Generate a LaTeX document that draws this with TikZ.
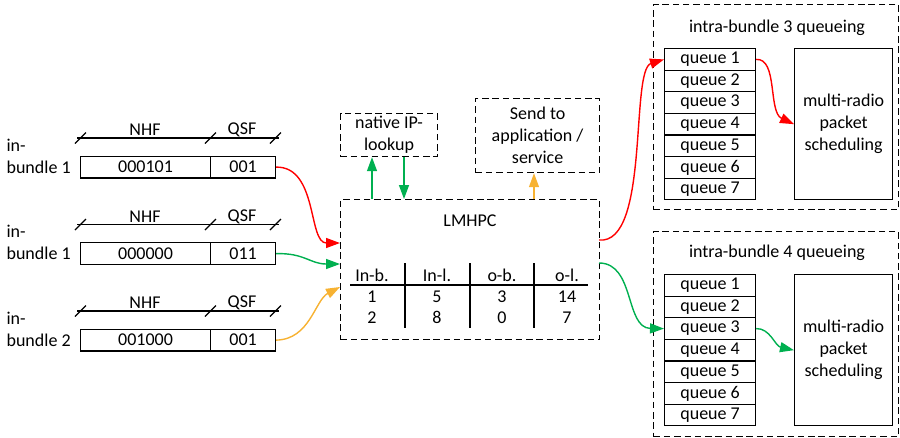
\documentclass[tikz,border=0pt]{standalone}
\usepackage{fontspec}
\setmainfont{Carlito}
\usetikzlibrary{arrows.meta}
\definecolor{myred}{RGB}{255,0,0}
\definecolor{mygreen}{RGB}{0,176,80}
\definecolor{myorange}{RGB}{247,178,50}
\begin{document}
\begin{tikzpicture}[x=1pt,y=-1pt,
  font=\fontsize{18}{22}\selectfont, line width=1.2pt,
  cell/.style={draw, minimum height=21.6pt, inner sep=0pt, anchor=north west},
  dbox/.style={draw, dash pattern=on 6.5pt off 3.8pt, inner sep=0pt, anchor=north west, align=center},
  lbl/.style={inner sep=0pt},
  arr/.style={-{Triangle[length=14pt,width=10pt]}, line width=1.4pt},
]
\useasboundingbox (0,0) rectangle (900,437);

% ---------- input rows ----------
% row 1
\node[lbl, anchor=west, align=left] (l1) at (6,156) {in-\\bundle 1};
\node[cell, minimum width=130pt] (n1) at (80,155.7) {000101};
\node[cell, minimum width=65pt] (s1) at (210,155.7) {001};
\draw (77,138) -- (279,138);
\draw (75,143.5) -- (86,132.5) (205,143.5) -- (216,132.5) (270,143.5) -- (281,132.5);
\node[lbl] (h1a) at (145,130) {NHF};
\node[lbl] (h1b) at (242,130) {QSF};
% row 2
\node[lbl, anchor=west, align=left] (l2) at (6,242.5) {in-\\bundle 1};
\node[cell, minimum width=130pt] (n2) at (80,242.2) {000000};
\node[cell, minimum width=65pt] (s2) at (210,242.2) {011};
\draw (77,224.5) -- (279,224.5);
\draw (75,230) -- (86,219) (205,230) -- (216,219) (270,230) -- (281,219);
\node[lbl] (h2a) at (145,216.5) {NHF};
\node[lbl] (h2b) at (242,216.5) {QSF};
% row 3
\node[lbl, anchor=west, align=left] (l3) at (6,329) {in-\\bundle 2};
\node[cell, minimum width=130pt] (n3) at (80,328.7) {001000};
\node[cell, minimum width=65pt] (s3) at (210,328.7) {001};
\draw (77,311) -- (279,311);
\draw (75,316.5) -- (86,305.5) (205,316.5) -- (216,305.5) (270,316.5) -- (281,305.5);
\node[lbl] (h3a) at (145,303) {NHF};
\node[lbl] (h3b) at (242,303) {QSF};

% ---------- LMHPC ----------
\node[dbox, minimum width=259pt, minimum height=140pt] (lm) at (340,199) {};
\node[lbl] (lmt) at (470,221) {LMHPC};
\draw (350,285) -- (588,285);
\draw (405,263) -- (405,328) (470,263) -- (470,328) (534,263) -- (534,328);
\node[lbl, anchor=base] (c1) at (372,281) {In-b.};
\node[lbl, anchor=base] (c2) at (437,281) {In-l.};
\node[lbl, anchor=base] (c3) at (502,281) {o-b.};
\node[lbl, anchor=base] (c4) at (567,281) {o-l.};
\node[lbl, anchor=base] (r11) at (372,302) {1};
\node[lbl, anchor=base] (r12) at (437,302) {5};
\node[lbl, anchor=base] (r13) at (502,302) {3};
\node[lbl, anchor=base] (r14) at (567,302) {14};
\node[lbl, anchor=base] (r21) at (372,323) {2};
\node[lbl, anchor=base] (r22) at (437,323) {8};
\node[lbl, anchor=base] (r23) at (502,323) {0};
\node[lbl, anchor=base] (r24) at (567,323) {7};

\node[dbox, minimum width=97pt, minimum height=43pt] (nip) at (340,113) {native IP-\\lookup};
\node[dbox, minimum width=124pt, minimum height=74pt] (snd) at (475,98) {Send to\\application /\\service};

\coordinate (in1) at (340,243);
\coordinate (in2) at (340,264);
\coordinate (in3) at (340,287);
\coordinate (out1) at (599,240);
\coordinate (out2) at (599,263);

% ---------- intra-bundle 3 ----------
\node[dbox, minimum width=245pt, minimum height=205pt] (b3) at (653,4) {};
\node[lbl] (b3t) at (777,27.5) {intra-bundle 3 queueing};
\foreach \i in {1,...,7} {
  \node[cell, minimum width=91pt] (qa\i) at (664,{48+21.6*(\i-1)}) {queue \i};
}
\node[cell, minimum width=98pt, minimum height=151.2pt, align=center] (mr3) at (794,48) {multi-radio\\packet\\scheduling};

% ---------- intra-bundle 4 ----------
\node[dbox, minimum width=245pt, minimum height=205pt] (b4) at (653,231) {};
\node[lbl] (b4t) at (777,253) {intra-bundle 4 queueing};
\foreach \i in {1,...,7} {
  \node[cell, minimum width=91pt] (qb\i) at (664,{274+21.6*(\i-1)}) {queue \i};
}
\node[cell, minimum width=98pt, minimum height=151.2pt, align=center] (mr4) at (794,274) {multi-radio\\packet\\scheduling};

% ---------- connectors ----------
\draw[arr, myred] (s1.east) .. controls (318,166.5) and (308,243) .. (in1);
\draw[arr, mygreen] (s2.east) .. controls (305,253) and (310,264) .. (in2);
\draw[arr, myorange] (s3.east) .. controls (310,339.5) and (315,300) .. (in3);

\draw[arr, mygreen] (lm.north -| 372,0) -- (nip.south -| 372,0);
\draw[arr, mygreen] (nip.south -| 404,0) -- (lm.north -| 404,0);
\draw[arr, myorange] (lm.north -| 534,0) -- (snd.south -| 534,0);

\draw[arr, myred] (out1) .. controls (650,245) and (630,70) .. (qa1.west);
\draw[arr, mygreen] (out2) .. controls (635,263) and (625,328) .. (qb3.west);

\draw[arr, myred] (qa1.east) .. controls (778,58) and (768,112) .. (mr3.west);
\draw[arr, mygreen] (qb3.east) .. controls (770,328) and (775,346) .. (mr4.west);
\end{tikzpicture}
\end{document}
